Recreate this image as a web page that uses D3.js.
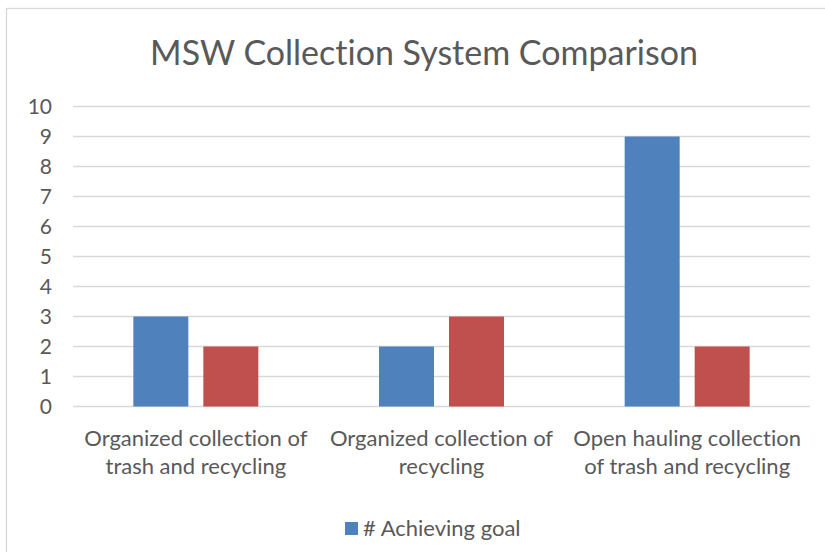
<!DOCTYPE html>
<html>
<head>
<meta charset="utf-8">
<script src="https://cdn.jsdelivr.net/npm/d3@7"></script>
<style>
    body { margin: 0; background: #fff; }
    svg { display: block; font-family: Lato, "Open Sans", sans-serif; font-variant-ligatures: none; }
    .grid line { stroke: #d9d9d9; stroke-width: 1.3; }
    .axis text, .label, .title, .legend text { fill: #595959; }
</style>
</head>
<body>
<div id="chart"></div>
<script>
// chart values
const categories = [
    ["Organized collection of", "trash and recycling"],
    ["Organized collection of", "recycling"],
    ["Open hauling collection", "of trash and recycling"]
];
const seriesNames = ["# Achieving goal", "Other"];
const achieving = [3, 2, 9];
const other = [2, 3, 2];
const yTicks = [0, 1, 2, 3, 4, 5, 6, 7, 8, 9, 10];
const colors = ["#4f81bd", "#c0504d"];

const width = 825, height = 552;
const margin = { top: 106.5, right: 15, bottom: 145.5, left: 73 };

const svg = d3.select("#chart").append("svg")
    .attr("width", width)
    .attr("height", height);

// chart frame (cut off at right and bottom like the screenshot)
svg.append("rect")
    .attr("x", 6.5).attr("y", 8.5)
    .attr("width", width + 20).attr("height", height + 20)
    .attr("fill", "#fff")
    .attr("stroke", "#d9d9d9")
    .attr("stroke-width", 1.3);

svg.append("text")
    .attr("class", "title")
    .attr("x", 424)
    .attr("y", 65)
    .attr("text-anchor", "middle")
    .style("font-size", "34px")
    .text("MSW Collection System Comparison");

const x0 = d3.scaleBand()
    .domain(d3.range(categories.length))
    .range([margin.left, width - margin.right]);

const x1 = d3.scaleBand()
    .domain(d3.range(seriesNames.length))
    .range([-62.5, 62.5])
    .paddingInner(0.2143);

const y = d3.scaleLinear()
    .domain([0, 10])
    .range([height - margin.bottom, margin.top]);

// gridlines
svg.append("g")
    .attr("class", "grid")
    .selectAll("line")
    .data(yTicks)
    .enter().append("line")
    .attr("x1", margin.left)
    .attr("x2", width - margin.right)
    .attr("y1", d => y(d))
    .attr("y2", d => y(d));

// y axis labels
const yAxis = d3.axisLeft(y)
    .tickValues(yTicks)
    .tickSize(0)
    .tickPadding(21);

svg.append("g")
    .attr("class", "axis")
    .attr("transform", `translate(${margin.left},0)`)
    .call(yAxis)
    .call(g => g.select(".domain").remove())
    .selectAll("text")
    .style("font-size", "21px")
    .style("font-family", "Lato, sans-serif");

// bars
const rows = categories.map((c, i) => [achieving[i], other[i]]);

const groups = svg.selectAll(".group")
    .data(rows)
    .enter().append("g")
    .attr("class", "group")
    .attr("transform", (d, i) => `translate(${x0(i) + x0.bandwidth() / 2},0)`);

groups.selectAll("rect")
    .data(d => d)
    .enter().append("rect")
    .attr("x", (d, j) => x1(j))
    .attr("width", x1.bandwidth())
    .attr("y", d => y(d))
    .attr("height", d => y(0) - y(d))
    .attr("fill", (d, j) => colors[j]);

// category labels
const labels = svg.selectAll(".label")
    .data(categories)
    .enter().append("text")
    .attr("class", "label")
    .attr("text-anchor", "middle")
    .style("font-size", "22px")
    .attr("x", (d, i) => x0(i) + x0.bandwidth() / 2)
    .attr("y", 446);

labels.selectAll("tspan")
    .data(d => d)
    .enter().append("tspan")
    .attr("x", function() { return this.parentNode.getAttribute("x"); })
    .attr("dy", (d, i) => i === 0 ? 0 : 28)
    .text(d => d);

// legend (only first series is shown in the original)
const legend = svg.append("g")
    .attr("class", "legend")
    .attr("transform", "translate(345,522)");

legend.append("rect")
    .attr("width", 13)
    .attr("height", 13)
    .attr("fill", colors[0]);

legend.append("text")
    .attr("x", 18)
    .attr("y", 14)
    .style("font-size", "22px")
    .text(seriesNames[0]);
</script>
</body>
</html>
